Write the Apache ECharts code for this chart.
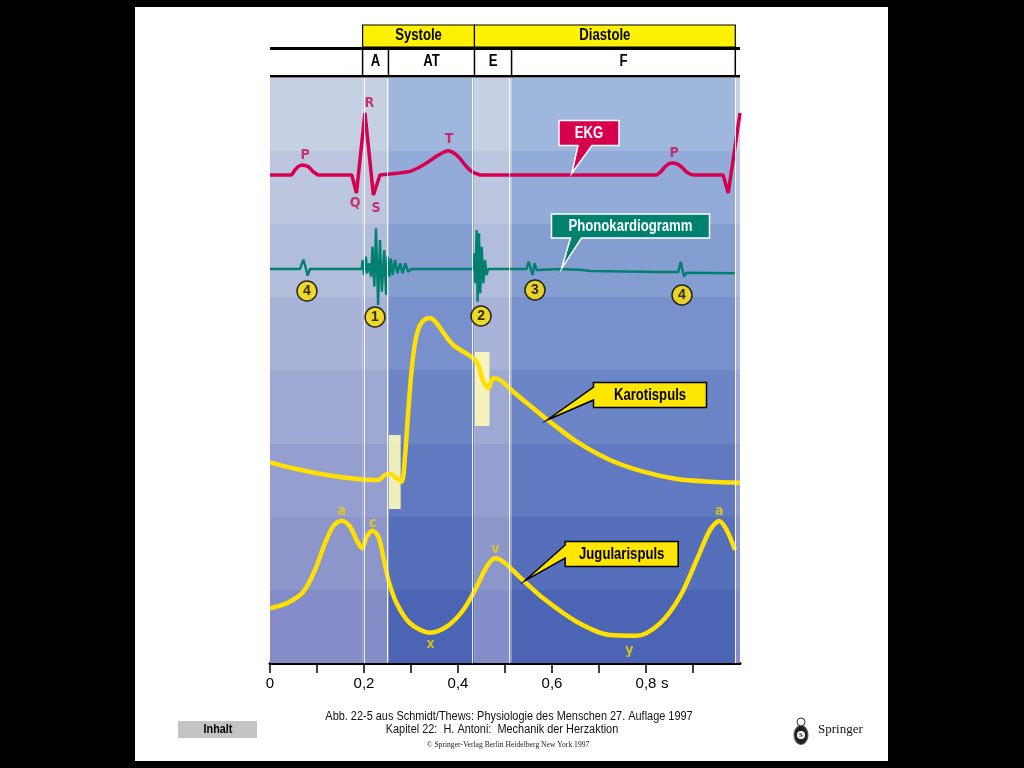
<!DOCTYPE html>
<html><head><meta charset="utf-8">
<script src="https://cdn.jsdelivr.net/npm/echarts@6/dist/echarts.min.js"></script>
<style>html,body{margin:0;padding:0;background:#000;}#c{width:1024px;height:768px;}</style>
</head><body><div id="c"></div>
<script>
// ---------- data (time in s, amplitude in arbitrary units) ----------
const tickValues = [0, 0.1, 0.2, 0.3, 0.4, 0.5, 0.6, 0.7, 0.8, 0.9];
const labelValues = [0, 0.2, 0.4, 0.6, 0.8];
const columnBounds = [0, 0.197, 0.252, 0.435, 0.514, 0.990, 1.0];
const columnShade = ['light', 'light', 'dark', 'light', 'dark', 'light'];
const phaseNames = ['A', 'AT', 'E', 'F'];
const phaseBounds = [0.197, 0.252, 0.435, 0.514, 0.990];
const periodNames = ['Systole', 'Diastole'];
const periodBounds = [0.197, 0.435, 0.990];

const ekg = [
 [0,488],[0.046,488],[0.053,493],[0.060,496.5],[0.067,498],[0.075,497.5],[0.082,496.3],[0.092,491.3],[0.102,488],
 [0.174,488],[0.184,470],[0.202,550],[0.220,468],[0.234,488],
 [0.255,489],[0.275,490],[0.298,491.5],[0.315,495],[0.333,500],[0.355,507],[0.370,511],[0.379,512.3],[0.388,511],
 [0.397,508],[0.406,503.5],[0.415,498],[0.424,493.5],[0.433,490.3],[0.447,488],
 [0.823,488],[0.831,491],[0.840,496],[0.849,499.5],[0.858,500],[0.867,499],[0.876,496],[0.886,491],[0.896,488.5],[0.905,488],
 [0.964,488],[0.975,470],[1.0,550]
];
const phono = [
 [0,394],[0.0638,394],[0.0709,403.3],[0.0745,398],[0.0801,387.3],[0.0851,394],
 [0.195,394],[0.197,403],[0.200,388],[0.204,406.3],[0.207,389.7],[0.211,399.7],[0.215,386.3],[0.218,416.3],
 [0.222,376.3],[0.2255,434.7],[0.230,358],[0.234,423],[0.238,371.3],[0.243,413],[0.247,368],[0.250,406.3],
 [0.254,386.3],[0.257,404.7],[0.261,388],[0.266,403],[0.271,389.7],[0.277,399.7],[0.282,389.7],[0.288,399.7],
 [0.294,391.3],[0.301,394],
 [0.4326,394],[0.4348,409.7],[0.4369,379.7],[0.4397,433],[0.4418,361.3],[0.4447,429.7],[0.4475,369.7],
 [0.4504,416.3],[0.4539,379.7],[0.4574,403],[0.461,388],[0.4645,394],
 [0.546,394],[0.5504,401.3],[0.5546,394.7],[0.5589,388],[0.5631,399.7],[0.5674,393],[0.571,394],
 [0.617,394],[0.6667,393],[0.681,392],[0.830,391],[0.8688,391],[0.8738,401.3],[0.8809,386.3],[0.8865,390.3],[0.989,389.7]
];
const carotid = [
 [0,200.7],[0.0496,194.7],[0.1206,188],[0.1915,183.7],[0.2305,183],[0.2447,188],[0.2553,189],[0.2695,184.7],
 [0.2801,181.3],[0.2872,206.3],[0.2943,253],[0.3014,293],[0.3085,319.7],[0.3177,336.3],[0.3298,343.7],[0.3418,344.7],
 [0.3546,339.7],[0.3723,328],[0.39,318],[0.4113,311.3],[0.4326,304.7],[0.4433,298],[0.4525,283],[0.4645,274.7],
 [0.4752,284.7],[0.4894,283],[0.5177,271.3],[0.5603,254.7],[0.5957,241.3],[0.6525,221.3],[0.7234,203],
 [0.7943,191.3],[0.8652,184],[0.9362,181.3],[1.0,180.3]
];
const carotidMarks = [[0.253, 154, 0.278, 228], [0.436, 237, 0.467, 311]];
const jugular = [
 [0,54.7],[0.0355,59.7],[0.0709,71.3],[0.0957,93],[0.117,119.7],[0.1348,137],[0.1525,142.3],[0.1702,136.3],
 [0.1858,121.3],[0.1965,114.7],[0.2057,126.3],[0.2184,132.3],[0.2305,126.3],[0.2411,106.3],[0.2518,83],
 [0.2695,59.7],[0.2979,39.7],[0.3404,30.3],[0.3759,36.3],[0.4113,53],[0.4397,76.3],[0.461,96.3],[0.4787,104.7],
 [0.4965,101.3],[0.5319,85.7],[0.5816,64.7],[0.6525,41.3],[0.7234,28],[0.7801,27.3],[0.8298,39.7],[0.8723,66.3],
 [0.9078,103],[0.9362,133],[0.956,142],[0.9716,133],[0.9894,113]
];
const ekgLabels = [['P',0.0745,508],['Q',0.1809,460],['R',0.2113,560],['S',0.2255,455],['T',0.3809,524],['P',0.8596,510]];
const jugLabels = [['a',0.1525,152],['c',0.2184,140],['x',0.3418,19],['v',0.4794,114],['y',0.7645,13],['a',0.956,152]];
const heartSounds = [['4',0.0787,372],['1',0.2234,346],['2',0.449,347],['3',0.5638,373],['4',0.8766,368]];
const callouts = [
 {text:'EKG', box:[0.6787,530], tip:[0.642,489.7]},
 {text:'Phonokardiogramm', box:[0.767,437], tip:[0.6206,394.7]},
 {text:'Karotispuls', box:[0.8085,268], tip:[0.59,243]},
 {text:'Jugularispuls', box:[0.7483,109], tip:[0.5426,82.3]}
];
// ---------- styles ----------
const FONT = "'Liberation Sans', Arial, sans-serif";
const NARROW = 0.82;
const calloutStyle = [
 {w:60,h:25,fill:'#d6004f',stroke:'#ffffff',color:'#fff',side:'bottom',base:[-11,3]},
 {w:158,h:24,fill:'#00806f',stroke:'#ffffff',color:'#fff',side:'bottom',base:[-60,-49]},
 {w:113,h:25,fill:'#ffe600',stroke:'#000000',color:'#000',side:'left',base:[-8,5]},
 {w:113,h:25,fill:'#ffe600',stroke:'#000000',color:'#000',side:'left',base:[-9,4]}
];
const lightCols = ['#c6d0e3','#bcc7df','#b2bddb','#a8b3d7','#9ea9d3','#959fcf','#8c96cb','#848dc7'];
const darkCols  = ['#a0b7dd','#93abd8','#859ed2','#7891cc','#6c85c6','#6079c0','#566fba','#4b65b4'];
function stepGradient(colors){
  const stops=[]; const n=colors.length;
  colors.forEach((c,i)=>{stops.push({offset:i/n,color:c});stops.push({offset:(i+1)/n,color:c});});
  return {type:'linear',x:0,y:0,x2:0,y2:1,colorStops:stops};
}
const YELLOW = '#ffe000';

const chart = echarts.init(document.getElementById('c'));
const bgAreas = [];
for (let i=0;i<columnShade.length;i++){
  bgAreas.push([{xAxis:columnBounds[i], itemStyle:{color:stepGradient(columnShade[i]==='light'?lightCols:darkCols)}},{xAxis:columnBounds[i+1]}]);
}
function fmt(v){ return String(Math.round(v*10)/10).replace('.',','); }
function textScatter(arr, color, size, weight){
  return {type:'scatter', z:6, symbolSize:1, itemStyle:{color:'rgba(0,0,0,0)'}, silent:true,
    data: arr.map(d=>({name:d[0], value:[d[1],d[2]]})),
    label:{show:true, position:'inside', formatter:'{b}', color:color, fontSize:size, fontWeight:weight,
      fontFamily:"'DejaVu Sans Condensed', sans-serif"}};
}
const option = {
  backgroundColor:'#000',
  animation:false,
  grid:{left:270, right:284, top:78, bottom:105},
  xAxis:{type:'value', min:0, max:1, interval:0.1,
    axisLine:{show:true, lineStyle:{color:'#000', width:3}},
    axisTick:{show:true, length:10, lineStyle:{color:'#000', width:1.5}, customValues:tickValues},
    axisLabel:{show:true, margin:13, color:'#000', fontSize:15, fontFamily:FONT, customValues:labelValues,
      formatter:v=> (Math.round(v*10)%2===0 && v<0.95) ? fmt(v) : ''},
    splitLine:{show:false}},
  yAxis:{type:'value', min:0, max:585, show:false},
  series:[
    {type:'line', z:1, data:[[0,0]], symbol:'none', lineStyle:{opacity:0}, silent:true,
      markArea:{silent:true, data:bgAreas},
      markLine:{silent:true, symbol:'none', label:{show:false}, lineStyle:{color:'#ffffff', width:1, type:'solid', opacity:0.9},
        data:phaseBounds.map(b=>({xAxis:b}))}},
    {type:'line', z:2, data:[[0,0]], symbol:'none', lineStyle:{opacity:0}, silent:true,
      markArea:{silent:true, itemStyle:{color:'rgba(255,250,185,0.9)'},
        data:carotidMarks.map(m=>[{coord:[m[0],m[1]]},{coord:[m[2],m[3]]}])}},
    {name:'EKG', type:'line', z:4, data:ekg, symbol:'none', lineStyle:{color:'#d8004e', width:3.5}},
    {name:'Phonokardiogramm', type:'line', z:4, data:phono, symbol:'none', lineStyle:{color:'#00806f', width:2.4}},
    {name:'Karotispuls', type:'line', z:4, data:carotid, symbol:'none', smooth:0.3, lineStyle:{color:YELLOW, width:4.5}},
    {name:'Jugularispuls', type:'line', z:4, data:jugular, symbol:'none', smooth:0.3, lineStyle:{color:YELLOW, width:4.5}},
    textScatter(ekgLabels, '#cc0a4e', 14, 'bold'),
    textScatter(jugLabels, '#f2d000', 14, 'bold'),
    {type:'scatter', z:6, symbol:'circle', symbolSize:20, silent:true,
      itemStyle:{color:YELLOW, borderColor:'#000', borderWidth:1.5},
      data: heartSounds.map(d=>({name:d[0], value:[d[1],d[2]]})),
      label:{show:true, position:'inside', formatter:'{b}', color:'#000', fontSize:14, fontWeight:'bold', fontFamily:FONT}}
  ]
};
chart.setOption(option);

function px(p){ return chart.convertToPixel({gridIndex:0}, p); }
function xpx(t){ return chart.convertToPixel({xAxisIndex:0}, t); }
function txt(str, x, y, font, fill, sx, align, z){
  return {type:'text', z:z||61, x:x, y:y, scaleX:sx||1, silent:true,
    style:{text:str, x:0, y:0, align:align||'center', verticalAlign:'middle', fill:fill, font:font}};
}
const g = [];
// white page
g.push({type:'rect', z:-100, silent:true, shape:{x:135,y:7,width:753,height:754}, style:{fill:'#fff'}});
// header
const x0 = xpx(0), x1 = xpx(1);
const pb = periodBounds.map(xpx);
for (let i=0;i<periodNames.length;i++){
  g.push({type:'rect', z:50, shape:{x:pb[i], y:25, width:pb[i+1]-pb[i], height:22}, style:{fill:'#fff200', stroke:'#000', lineWidth:1.2}});
  g.push(txt(periodNames[i], (pb[i]+pb[i+1])/2, 36, 'bold 16px '+FONT, '#000', NARROW, 'center', 51));
}
g.push({type:'rect', z:52, shape:{x:x0, y:47, width:x1-x0, height:3}, style:{fill:'#000'}});
g.push({type:'rect', z:52, shape:{x:x0, y:75, width:x1-x0, height:2.5}, style:{fill:'#000'}});
const phb = phaseBounds.map(xpx);
phb.forEach(x=>g.push({type:'rect', z:52, shape:{x:x-0.75, y:50, width:1.5, height:25}, style:{fill:'#000'}}));
for (let i=0;i<phaseNames.length;i++){
  g.push(txt(phaseNames[i], (phb[i]+phb[i+1])/2, 62, 'bold 16px '+FONT, '#000', NARROW, 'center', 51));
}
// callouts
callouts.forEach((c,i)=>{
  const s = calloutStyle[i];
  const [cx, cy] = px(c.box); const tip = px(c.tip);
  const L=cx-s.w/2, R=cx+s.w/2, T=cy-s.h/2, B=cy+s.h/2;
  let pts;
  if (s.side==='bottom') pts=[[L,T],[R,T],[R,B],[cx+s.base[1],B],tip,[cx+s.base[0],B],[L,B]];
  else pts=[[L,T],[R,T],[R,B],[L,B],[L,cy+s.base[1]],tip,[L,cy+s.base[0]]];
  g.push({type:'polygon', z:60, shape:{points:pts}, style:{fill:s.fill, stroke:s.stroke, lineWidth:1.5, lineJoin:'miter'}});
  g.push(txt(c.text, cx, cy+0.5, 'bold 16px '+FONT, s.color, NARROW, 'center', 61));
});
// axis unit
g.push(txt('s', xpx(0.84), 684, '15px '+FONT, '#000', 1, 'center', 61));
// caption
g.push(txt('Abb. 22-5 aus Schmidt/Thews: Physiologie des Menschen 27. Auflage 1997', 509, 717, '12px '+FONT, '#111', 0.91));
g.push(txt('Kapitel 22:  H. Antoni:  Mechanik der Herzaktion', 502, 730, '12px '+FONT, '#111', 0.91));
g.push(txt('© Springer-Verlag Berlin Heidelberg New York 1997', 508, 745, '8px "Liberation Serif", serif', '#222', 0.95));
// Inhalt button
g.push({type:'rect', z:61, shape:{x:178, y:721, width:79, height:17}, style:{fill:'#c4c4c4'}});
g.push(txt('Inhalt', 218, 729.5, 'bold 12px '+FONT, '#000', 0.9, 'center', 62));
// Springer logo
g.push({type:'ellipse', z:61, shape:{cx:801, cy:735, rx:7, ry:9.5}, style:{fill:'#222', stroke:'#666', lineWidth:1}});
g.push({type:'circle', z:62, shape:{cx:801, cy:735, r:4}, style:{fill:'#fff'}});
g.push(txt('S', 801, 735.5, 'bold 7px "Liberation Serif", serif', '#000', 1, 'center', 63));
g.push({type:'circle', z:61, shape:{cx:801, cy:722, r:4}, style:{fill:'#fff', stroke:'#333', lineWidth:1}});
g.push(txt('Springer', 818, 730, '13px "Liberation Serif", serif', '#111', 1, 'left', 61));
chart.setOption({graphic:g});
</script></body></html>
